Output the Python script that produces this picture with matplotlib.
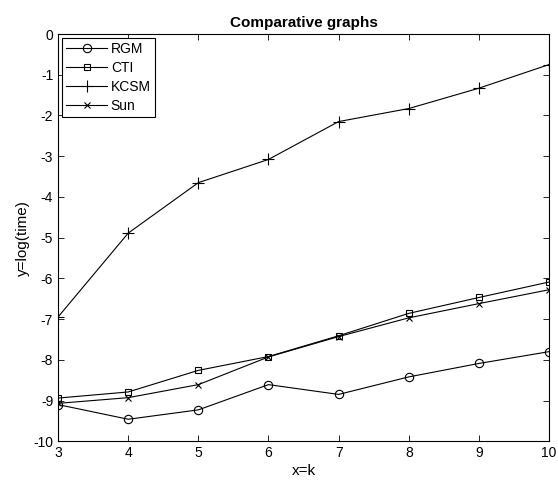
import matplotlib
matplotlib.use('Agg')
import matplotlib.pyplot as plt

plt.rcParams['font.family'] = ['Liberation Sans', 'DejaVu Sans']
plt.rcParams['axes.unicode_minus'] = False

k = [3, 4, 5, 6, 7, 8, 9, 10]
rgm = [-9.10, -9.46, -9.23, -8.61, -8.85, -8.42, -8.09, -7.80]
cti = [-8.94, -8.79, -8.26, -7.92, -7.41, -6.86, -6.47, -6.09]
kcsm = [-6.95, -4.89, -3.65, -3.08, -2.15, -1.83, -1.33, -0.75]
sun = [-9.07, -8.93, -8.61, -7.93, -7.43, -6.97, -6.62, -6.28]

fig = plt.figure(figsize=(5.58, 4.93), dpi=100)
ax = fig.add_axes([0.104, 0.105, 0.880, 0.826])

style = dict(color='black', linewidth=0.8, markerfacecolor='none',
             markeredgecolor='black', markeredgewidth=0.8)
ax.plot(k, rgm, marker='o', markersize=6, label='RGM', **style)
ax.plot(k, cti, marker='s', markersize=5, label='CTI', **style)
ax.plot(k, kcsm, marker='+', markersize=8, label='KCSM', **style)
ax.plot(k, sun, marker='x', markersize=4.5, label='Sun', **style)

ax.set_xlim(3, 10)
ax.set_ylim(-10, 0)
ax.set_xticks(range(3, 11))
ax.set_yticks(range(-10, 1))
ax.tick_params(direction='in', top=True, right=True, labelsize=10, length=4, width=0.6)
for s in ax.spines.values():
    s.set_linewidth(0.8)

ax.set_title('Comparative graphs', fontsize=11, fontweight='bold', pad=5)
ax.set_xlabel('x=k', fontsize=11, labelpad=3)
ax.set_ylabel('y=log(time)', fontsize=11, labelpad=2)

leg = ax.legend(loc='upper left', fancybox=False, edgecolor='black', framealpha=1,
                fontsize=10, handlelength=2.9, borderaxespad=0.3, labelspacing=0.35,
                handletextpad=0.3, borderpad=0.3)
leg.get_frame().set_linewidth(0.8)

fig.savefig('out.png', dpi=100)
